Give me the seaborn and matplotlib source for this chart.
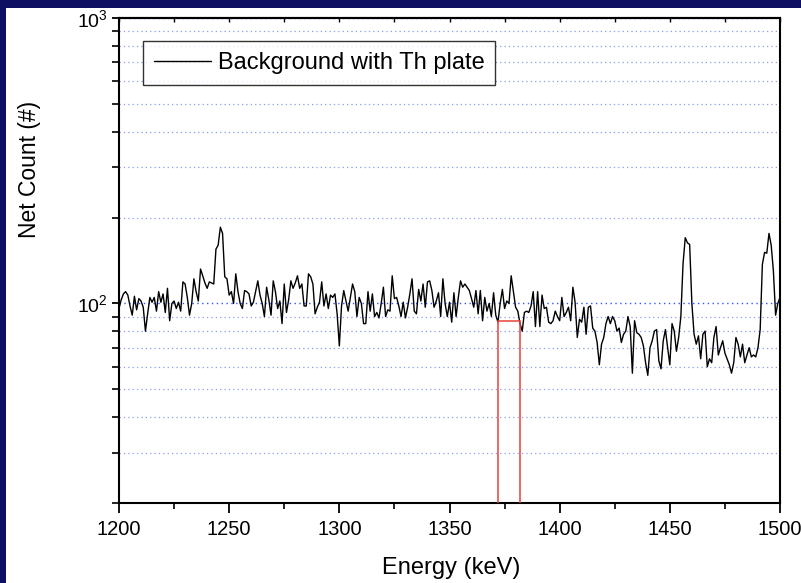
import numpy as np
import pandas as pd
import seaborn as sns
import matplotlib.pyplot as plt
from matplotlib.patches import Rectangle
from matplotlib.ticker import LogLocator, MultipleLocator, NullFormatter

# energy bins, 1 keV wide
energy = np.arange(1200, 1501)

# net counts per bin
counts = [
    # 1200-1258
    96, 103, 108, 110, 107, 98, 91, 106, 95, 104,
    102, 97, 80, 92, 105, 101, 105, 94, 110, 101,
    108, 93, 113, 87, 100, 102, 96, 101, 94, 119,
    117, 105, 91, 100, 122, 110, 102, 132, 125, 118,
    113, 119, 118, 117, 155, 160, 185, 176, 124, 122,
    107, 110, 100, 127, 110, 100, 96, 111, 110,
    # 1259-1317
    108, 98, 101, 110, 120, 107, 100, 90, 114, 103,
    91, 120, 110, 96, 102, 85, 117, 93, 103, 120,
    113, 118, 125, 113, 117, 98, 98, 127, 124, 117,
    92, 97, 101, 119, 98, 108, 96, 107, 105, 108,
    92, 71, 98, 111, 102, 94, 105, 117, 110, 90,
    105, 100, 85, 85, 110, 94, 108, 90, 93,
    # 1318-1376
    89, 100, 114, 90, 95, 94, 125, 104, 105, 98,
    90, 101, 89, 97, 108, 122, 94, 92, 112, 102,
    117, 97, 119, 120, 111, 97, 102, 109, 90, 122,
    100, 90, 101, 86, 109, 90, 105, 120, 114, 117,
    114, 111, 104, 97, 111, 92, 111, 87, 105, 94,
    100, 90, 109, 91, 86, 100, 112, 96, 102,
    # 1377-1435
    100, 125, 110, 97, 94, 85, 80, 93, 94, 93,
    98, 110, 83, 110, 83, 107, 96, 97, 86, 85,
    87, 94, 90, 87, 105, 90, 93, 97, 87, 114,
    101, 76, 88, 86, 97, 78, 97, 98, 82, 80,
    73, 61, 72, 76, 85, 90, 85, 90, 87, 80,
    82, 73, 78, 80, 90, 83, 57, 87, 79,
    # 1436-1500
    78, 76, 71, 62, 56, 70, 74, 80, 81, 63,
    59, 74, 81, 70, 61, 85, 80, 68, 76, 90,
    138, 170, 163, 161, 100, 78, 72, 77, 64, 78,
    80, 60, 64, 62, 76, 83, 66, 70, 74, 67,
    64, 61, 57, 62, 76, 72, 65, 72, 62, 66,
    70, 65, 66, 65, 70, 81, 137, 151, 150, 176,
    160, 130, 91, 100, 105,
]

roi_start, roi_end = 1372, 1382
roi_top = 87
legend_label = "Background with Th plate"

df = pd.DataFrame({"Energy": energy, "Counts": counts})

sns.set_style("white")
plt.rcParams["font.family"] = ["Liberation Sans", "DejaVu Sans"]
plt.rcParams["mathtext.fontset"] = "custom"
plt.rcParams["mathtext.rm"] = "Liberation Sans"
plt.rcParams["mathtext.it"] = "Liberation Sans:italic"
for key in ["text.color", "axes.labelcolor", "xtick.color", "ytick.color"]:
    plt.rcParams[key] = "black"

fig = plt.figure(figsize=(8.01, 5.83), dpi=100)
fig.patch.set_facecolor("#0e0e62")
fig.patches.append(Rectangle((6 / 801, 0), 1, 1 - 8 / 583, transform=fig.transFigure,
                             facecolor="white", edgecolor="none", zorder=-10))

ax = fig.add_axes([119 / 801, 80 / 583, 661 / 801, 485 / 583])
ax.set_facecolor("white")

sns.lineplot(data=df, x="Energy", y="Counts", color="black", linewidth=1.0,
             label=legend_label, ax=ax)

ax.add_patch(Rectangle((roi_start, 1), roi_end - roi_start, roi_top - 1,
                       fill=False, edgecolor="#e8403a", linewidth=1.1, zorder=3))

ax.set_yscale("log")
ax.set_xlim(1200, 1500)
ax.set_ylim(20, 1000)

ax.xaxis.set_major_locator(MultipleLocator(50))
ax.xaxis.set_minor_locator(MultipleLocator(25))
ax.yaxis.set_major_locator(LogLocator(base=10))
ax.yaxis.set_minor_locator(LogLocator(base=10, subs=np.arange(2, 10)))
ax.yaxis.set_minor_formatter(NullFormatter())

ax.grid(axis="y", which="major", color="#2f55ff", linestyle=(0, (1, 2.5)), linewidth=1.0)
ax.grid(axis="y", which="minor", color="#8c9cf5", linestyle=(0, (1, 2.5)), linewidth=0.9)
ax.set_axisbelow(True)

for s in ax.spines.values():
    s.set_color("black")
    s.set_linewidth(1.5)

ax.tick_params(axis="x", which="major", direction="out", length=7.5, width=1.3,
               labelsize=14.5, pad=5, bottom=True, colors="black")
ax.tick_params(axis="x", which="minor", direction="out", length=4, width=1.2, bottom=True)
ax.tick_params(axis="y", which="major", direction="out", length=5, width=1.3,
               labelsize=14, pad=3, left=True, colors="black")
ax.tick_params(axis="y", which="minor", direction="out", length=5, width=1.2, left=True)

top = ax.secondary_xaxis("top")
top.xaxis.set_major_locator(MultipleLocator(25))
top.tick_params(direction="in", length=3, width=1.0, labeltop=False)
top.spines["top"].set_linewidth(1.5)

ax.set_xlabel("Energy (keV)", fontsize=17, color="black")
ax.set_ylabel("Net Count (#)", fontsize=16.5, color="black")
ax.xaxis.set_label_coords(0.502, -0.112)
ax.yaxis.set_label_coords(-0.118, 0.687)

leg = ax.legend(loc="upper left", bbox_to_anchor=(0.037, 0.952), fontsize=17,
                frameon=True, fancybox=False, edgecolor="black", handlelength=2.4,
                borderpad=0.45, handletextpad=0.3, borderaxespad=0)
leg.get_frame().set_linewidth(1.0)
for t in leg.get_texts():
    t.set_color("black")

fig.savefig("out.png", dpi=100, facecolor=fig.get_facecolor())
